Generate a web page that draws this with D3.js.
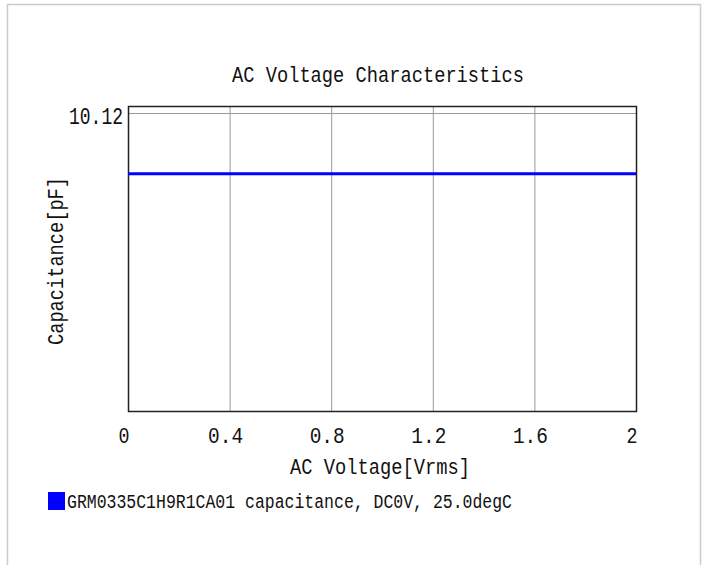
<!DOCTYPE html>
<html lang="en">
<head>
    <meta charset="UTF-8">
    <title>AC Voltage Characteristics</title>
    <script src="https://d3js.org/d3.v7.min.js"></script>
    <style>
        body { margin: 0; background: #fff; }
        text {
            font-family: "Liberation Mono", "DejaVu Sans Mono", monospace;
            fill: #111;
        }
        .grid { stroke: #999; stroke-width: 1; }
    </style>
</head>
<body>
<svg width="707" height="565"></svg>

<script>
    // data
    const voltage = [0, 0.2, 0.4, 0.6, 0.8, 1.0, 1.2, 1.4, 1.6, 1.8, 2.0];
    const capacitance = [10.075, 10.075, 10.075, 10.075, 10.075, 10.075, 10.075, 10.075, 10.075, 10.075, 10.075];
    const xTicks = [0, 0.4, 0.8, 1.2, 1.6, 2];
    const yTicks = [10.12];
    const seriesName = "GRM0335C1H9R1CA01 capacitance, DC0V, 25.0degC";

    const svg = d3.select("svg");

    // outer frame (open at bottom)
    svg.append("path")
        .attr("d", "M7.5,565 V4.5 H700.5 V565")
        .attr("fill", "none")
        .attr("stroke", "#ccc")
        .attr("stroke-width", 1.5);

    const pLeft = 128, pRight = 636, pTop = 106, pBottom = 411;

    const x = d3.scaleLinear().domain([0, 2]).range([pLeft, pRight]);
    const y = d3.scaleLinear().domain([9.90, 10.125]).range([pBottom, pTop]);

    // gridlines
    svg.append("g").selectAll("line")
        .data(xTicks.slice(1, -1))
        .join("line")
        .attr("class", "grid")
        .attr("x1", d => x(d) + 0.5).attr("x2", d => x(d) + 0.5)
        .attr("y1", pTop).attr("y2", pBottom);

    svg.append("g").selectAll("line")
        .data(yTicks)
        .join("line")
        .attr("class", "grid")
        .attr("x1", pLeft).attr("x2", pRight)
        .attr("y1", d => Math.round(y(d)) + 0.5).attr("y2", d => Math.round(y(d)) + 0.5);

    // plot box
    svg.append("rect")
        .attr("x", pLeft + 0.5).attr("y", pTop + 0.5)
        .attr("width", pRight - pLeft).attr("height", pBottom - pTop)
        .attr("fill", "none")
        .attr("stroke", "#222")
        .attr("stroke-width", 1.5);

    // series
    const line = d3.line().x((d, i) => x(voltage[i])).y(d => y(d));
    svg.append("path")
        .datum(capacitance)
        .attr("d", line)
        .attr("fill", "none")
        .attr("stroke", "#0000ff")
        .attr("stroke-width", 3);

    // tick labels
    const fmtX = d => d === 0 ? "0" : d === 2 ? "2" : d3.format(".1f")(d);
    svg.append("g").selectAll("text")
        .data(xTicks)
        .join("text")
        .attr("x", d => x(d) - 4)
        .attr("y", 443)
        .attr("text-anchor", "middle")
        .attr("font-size", 22)
        .attr("textLength", d => fmtX(d).length > 1 ? 35 : 11)
        .attr("lengthAdjust", "spacingAndGlyphs")
        .text(fmtX);

    svg.append("g").selectAll("text")
        .data(yTicks)
        .join("text")
        .attr("x", pLeft - 5)
        .attr("y", d => y(d) + 11)
        .attr("text-anchor", "end")
        .attr("font-size", 23)
        .attr("textLength", 54)
        .attr("lengthAdjust", "spacingAndGlyphs")
        .text(d => String(d));

    // titles
    svg.append("text")
        .attr("x", 378).attr("y", 82)
        .attr("text-anchor", "middle")
        .attr("font-size", 22)
        .attr("textLength", 292)
        .attr("lengthAdjust", "spacingAndGlyphs")
        .text("AC Voltage Characteristics");

    svg.append("text")
        .attr("x", 380).attr("y", 474)
        .attr("text-anchor", "middle")
        .attr("font-size", 22)
        .attr("textLength", 180)
        .attr("lengthAdjust", "spacingAndGlyphs")
        .text("AC Voltage[Vrms]");

    svg.append("text")
        .attr("transform", "translate(63,261) rotate(-90)")
        .attr("text-anchor", "middle")
        .attr("font-size", 22)
        .attr("textLength", 168)
        .attr("lengthAdjust", "spacingAndGlyphs")
        .text("Capacitance[pF]");

    // legend
    svg.append("rect")
        .attr("x", 48).attr("y", 492)
        .attr("width", 17).attr("height", 18)
        .attr("fill", "#0000ff");

    svg.append("text")
        .attr("x", 67).attr("y", 508)
        .attr("font-size", 20)
        .attr("textLength", 445)
        .attr("lengthAdjust", "spacingAndGlyphs")
        .text(seriesName);
</script>
</body>
</html>
